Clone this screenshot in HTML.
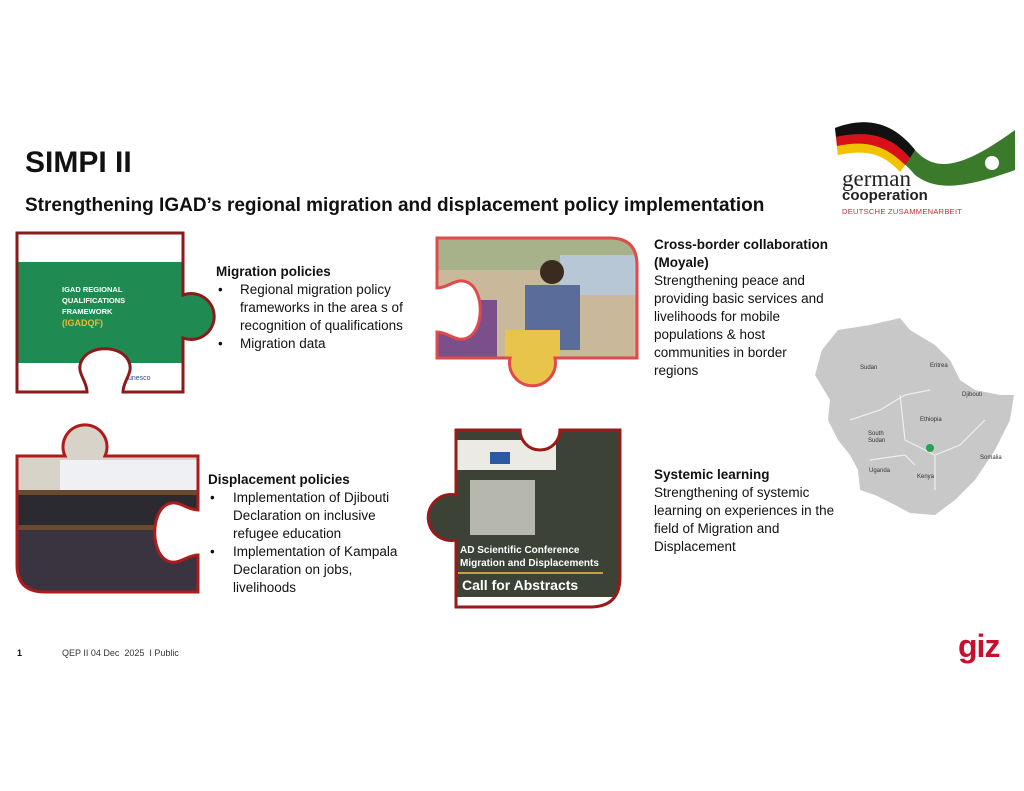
<!DOCTYPE html>
<html><head><meta charset="utf-8"><style>
body{margin:0;width:1024px;height:791px;background:#fff;position:relative;overflow:hidden;font-family:"Liberation Sans",Arial,sans-serif;color:#111}
.t{position:absolute;white-space:nowrap;font-size:13.5px;line-height:18px}
b{font-weight:bold}
</style></head><body>
<svg width="1024" height="791" style="position:absolute;left:0;top:0">
<defs>
<clipPath id="c1"><path d="M17,233 H183 V295 A23,23 0 1 1 183,338 V392 H123 C123,380 135,372 128,360 C120,345 90,345 82,360 C75,372 87,380 87,392 H17 Z"/></clipPath>
<clipPath id="c2"><path d="M437,238 H610 Q637,238 637,265 V358 H555 A23,23 0 1 1 510,358 H437 V332 C449,332 457,344 469,337 C484,328 484,292 469,283 C457,276 449,288 437,288 Z"/></clipPath>
<clipPath id="c3"><path d="M17,456 H65 A22,22 0 1 1 105,456 H198 V510 C186,510 178,498 166,505 C151,514 151,551 166,560 C178,567 186,555 198,555 V592 H45 Q17,592 17,565 Z"/></clipPath>
<clipPath id="c4"><path d="M456,430 H520 A20,20 0 1 0 560,430 H620 V577 Q620,607 590,607 H456 V540 A23,23 0 1 1 456,495 Z"/></clipPath>
</defs>
<g clip-path="url(#c1)">
<rect x="0" y="220" width="220" height="180" fill="#fff"/>
<rect x="17" y="262" width="200" height="101" fill="#1f8a52"/>
<text x="62" y="292" font-size="7.5" fill="#fff" font-weight="bold" font-family="Liberation Sans">IGAD REGIONAL</text>
<text x="62" y="303" font-size="7.5" fill="#fff" font-weight="bold" font-family="Liberation Sans">QUALIFICATIONS</text>
<text x="62" y="314" font-size="7.5" fill="#fff" font-weight="bold" font-family="Liberation Sans">FRAMEWORK</text>
<text x="62" y="326" font-size="9" fill="#e9b93a" font-weight="bold" font-family="Liberation Sans">(IGADQF)</text>
<text x="128" y="380" font-size="7" fill="#2a4a9a" font-family="Liberation Sans">unesco</text>
</g>
<path d="M17,233 H183 V295 A23,23 0 1 1 183,338 V392 H123 C123,380 135,372 128,360 C120,345 90,345 82,360 C75,372 87,380 87,392 H17 Z" fill="none" stroke="#8b1a1a" stroke-width="3"/>
<g clip-path="url(#c2)">
<rect x="420" y="230" width="230" height="170" fill="#c9b89a"/>
<rect x="420" y="230" width="230" height="40" fill="#a8b28a"/>
<rect x="560" y="255" width="80" height="40" fill="#b7c7d6"/>
<rect x="525" y="285" width="55" height="65" fill="#5a6d9a"/>
<circle cx="552" cy="272" r="12" fill="#3a2a20"/>
<rect x="505" y="330" width="55" height="70" fill="#e8c44a"/>
<rect x="437" y="300" width="60" height="60" fill="#7a4f8a"/>
</g>
<path d="M437,238 H610 Q637,238 637,265 V358 H555 A23,23 0 1 1 510,358 H437 V332 C449,332 457,344 469,337 C484,328 484,292 469,283 C457,276 449,288 437,288 Z" fill="none" stroke="#e04a4a" stroke-width="3"/>
<g clip-path="url(#c3)">
<rect x="0" y="410" width="210" height="190" fill="#6a4a2e"/>
<rect x="0" y="410" width="210" height="80" fill="#d8d3c8"/>
<rect x="60" y="460" width="140" height="30" fill="#eef0f4"/>
<rect x="17" y="495" width="190" height="30" fill="#2a2a30"/>
<rect x="17" y="530" width="190" height="62" fill="#3a3440"/>
</g>
<path d="M17,456 H65 A22,22 0 1 1 105,456 H198 V510 C186,510 178,498 166,505 C151,514 151,551 166,560 C178,567 186,555 198,555 V592 H45 Q17,592 17,565 Z" fill="none" stroke="#b01a1a" stroke-width="3"/>
<g clip-path="url(#c4)">
<rect x="400" y="420" width="230" height="200" fill="#3c4236"/>
<rect x="456" y="440" width="100" height="30" fill="#eceae4"/>
<rect x="490" y="452" width="20" height="12" fill="#2a5aa0"/>
<rect x="470" y="480" width="65" height="55" fill="#b6b8ae"/>
<text x="460" y="553" font-size="10" fill="#fff" font-weight="bold" font-family="Liberation Sans">AD Scientific Conference</text>
<text x="460" y="566" font-size="10" fill="#fff" font-weight="bold" font-family="Liberation Sans">Migration and Displacements</text>
<rect x="458" y="572" width="145" height="2" fill="#c8a040"/>
<text x="462" y="590" font-size="14" fill="#fff" font-weight="bold" font-family="Liberation Sans">Call for Abstracts</text>
<rect x="456" y="597" width="170" height="12" fill="#fff"/>
</g>
<path d="M456,430 H520 A20,20 0 1 0 560,430 H620 V577 Q620,607 590,607 H456 V540 A23,23 0 1 1 456,495 Z" fill="none" stroke="#9a1a1a" stroke-width="3"/>
<path d="M838,330 L870,325 L900,318 L910,330 L935,345 L950,360 L960,380 L975,390 L1000,395 L1014,395 L1010,420 L995,450 L975,480 L955,500 L935,515 L910,513 L895,505 L875,495 L860,490 L858,470 L850,455 L838,440 L828,420 L830,400 L815,375 L822,350 Z" fill="#c8c8c8"/>
<path d="M850,420 L880,410 L905,395 L930,390 M900,395 L905,440 L935,455 L960,445 L985,420 M870,460 L905,455 L915,465 M935,455 L935,490" stroke="#eee" stroke-width="1.2" fill="none"/>
<circle cx="930" cy="448" r="4" fill="#2aa050"/>
<g font-family="Liberation Sans" font-size="6" fill="#333">
<text x="860" y="369">Sudan</text><text x="930" y="367">Eritrea</text><text x="962" y="396">Djibouti</text>
<text x="920" y="421">Ethiopia</text><text x="868" y="435">South</text><text x="868" y="442">Sudan</text>
<text x="980" y="459">Somalia</text><text x="869" y="472">Uganda</text><text x="917" y="478">Kenya</text>
</g>
<path d="M835,128 C870,115 895,125 915,150 C935,172 960,170 1015,130 L1015,170 C960,190 935,190 915,175 C895,150 870,145 838,155 Z" fill="#3a7a2a"/>
<path d="M835,128 C870,115 895,125 915,150 L910,158 C890,135 868,130 836,137 Z" fill="#111"/>
<path d="M836,137 C868,130 890,135 910,158 L905,165 C885,145 866,140 837,146 Z" fill="#d8101a"/>
<path d="M837,146 C866,140 885,145 905,165 L900,172 C882,152 864,150 838,155 Z" fill="#f2c200"/>
<circle cx="992" cy="163" r="7" fill="#fff"/>
</svg>
<div class="t" style="left:25px;top:145px;font-size:30px;line-height:36px;font-weight:bold">SIMPI II</div>
<div class="t" style="left:25px;top:195px;font-size:19px;line-height:22px;font-weight:bold">Strengthening IGAD’s regional migration and displacement policy implementation</div>
<div class="t" style="left:842px;top:167px;font-family:'Liberation Serif',serif;font-size:23px;line-height:24px;color:#222">german</div>
<div class="t" style="left:842px;top:188px;font-size:15px;line-height:16px;font-weight:bold;color:#222">cooperation</div>
<div class="t" style="left:842px;top:207px;font-size:7.5px;line-height:9px;color:#c0303a;letter-spacing:0.3px">DEUTSCHE ZUSAMMENARBEIT</div>

<div class="t" style="left:216px;top:263px"><b>Migration policies</b></div>
<div class="t" style="left:218px;top:281px">•</div><div class="t" style="left:240px;top:281px">Regional migration policy<br>frameworks in the area s of<br>recognition of qualifications</div>
<div class="t" style="left:218px;top:335px">•</div><div class="t" style="left:240px;top:335px">Migration data</div>

<div class="t" style="left:654px;top:236px"><b>Cross-border collaboration<br>(Moyale)</b><br>Strengthening peace and<br>providing basic services and<br>livelihoods for mobile<br>populations &amp; host<br>communities in border<br>regions</div>

<div class="t" style="left:654px;top:466px"><b>Systemic learning</b><br>Strengthening of systemic<br>learning on experiences in the<br>field of Migration and<br>Displacement</div>

<div class="t" style="left:208px;top:471px"><b>Displacement policies</b></div>
<div class="t" style="left:210px;top:489px">•</div><div class="t" style="left:233px;top:489px">Implementation of Djibouti<br>Declaration on inclusive<br>refugee education</div>
<div class="t" style="left:210px;top:543px">•</div><div class="t" style="left:233px;top:543px">Implementation of Kampala<br>Declaration on jobs,<br>livelihoods</div>

<div class="t" style="left:17px;top:647px;font-size:9px;line-height:12px;font-weight:bold">1</div>
<div class="t" style="left:62px;top:647px;font-size:9px;line-height:12px;color:#333">QEP II 04 Dec&nbsp; 2025&nbsp; I Public</div>
<div class="t" style="left:958px;top:628px;font-size:32px;line-height:36px;color:#c8102e;font-weight:bold;letter-spacing:-1px">giz</div>
</body></html>
